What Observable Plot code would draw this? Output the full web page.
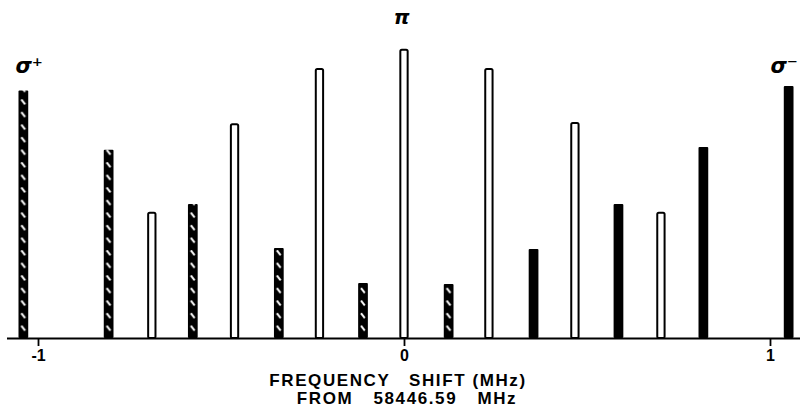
<!DOCTYPE html>
<html>
<head>
<meta charset="utf-8">
<script src="https://cdn.jsdelivr.net/npm/d3@7"></script>
<script src="https://cdn.jsdelivr.net/npm/@observablehq/plot@0.6"></script>
<style>
  html, body { margin: 0; padding: 0; background: #fff; }
  svg [aria-label^="x-axis"] path, svg [aria-label^="x-axis"] line { stroke-width: 1.8px; }
</style>
</head>
<body>
<div id="chart"></div>
<script>
// Zeeman components: frequency shift (MHz), relative intensity, polarization
const shift =        [-1.040, -0.807, -0.689, -0.577, -0.463, -0.342, -0.231, -0.112, 0.000, 0.122, 0.232, 0.354, 0.467, 0.586, 0.702, 0.818, 1.051];
const intensity =    [  85.6,   65.1,   43.3,   46.4,   74.0,   31.1,   93.1,   19.0,  99.7,  18.7,  93.1,  30.8,  74.4,  46.4,  43.3,  66.1,  87.2];
const polarization = ["sigma+", "sigma+", "pi", "sigma+", "pi", "sigma+", "pi", "sigma+", "pi", "sigma+", "pi", "sigma-", "pi", "sigma-", "pi", "sigma-", "sigma-"];

const tickValues = [-1, 0, 1];
const polLabels = ["σ⁺", "π", "σ⁻"];
const polLabelShift = [-1.063, -0.008, 1.075];
const polLabelHeight = [91.7, 108.7, 91.7];
const polLabelAnchor = ["start", "middle", "end"];
const axisTitle = ["FREQUENCY\u2003SHIFT (MHz)", "FROM\u2002\u200258446.59\u2002\u2002MHz"];

const lines = shift.map((x, i) => ({x, y: intensity[i], pol: polarization[i], id: i}));
const hatched = lines.filter(d => d.pol === "sigma+");
const solid = lines.filter(d => d.pol === "sigma-");
const open = lines.filter(d => d.pol === "pi");
const labels = polLabels.map((t, i) => ({t, x: polLabelShift[i], y: polLabelHeight[i], a: polLabelAnchor[i]}));

const HW = 0.0133;  // half width of filled bars (MHz)
const HWO = 0.0100; // half width of open bars (MHz)

const labelStyle = {x: "x", y: "y", text: "t", lineAnchor: "bottom", fontWeight: "bold", fontStyle: "italic",
  fontFamily: "'DejaVu Sans', sans-serif", fill: "#000"};

const chart = Plot.plot({
  width: 800,
  height: 415,
  marginLeft: 7,
  marginRight: 0,
  marginTop: 49,
  marginBottom: 77,
  x: {domain: [-1.0847, 1.082], ticks: tickValues, tickSize: 8, tickPadding: 3,
      tickFormat: d => (d < 0 ? "-" : "") + Math.abs(d), label: null},
  y: {domain: [0, 100], axis: null},
  color: {type: "identity"},
  style: {fontFamily: "'Liberation Sans', Arial, sans-serif", fontSize: "16px", color: "#000", background: "#fff", overflow: "visible"},
  marks: [
    Plot.rect(solid, {x1: d => d.x - HW, x2: d => d.x + HW, y1: 0, y2: "y", fill: "#000", rx: 1}),
    Plot.rect(hatched, {x1: d => d.x - HW, x2: d => d.x + HW, y1: 0, y2: "y", fill: d => `url(#hatch${d.id})`, rx: 1}),
    Plot.rect(open, {x1: d => d.x - HWO, x2: d => d.x + HWO, y1: 0, y2: "y", fill: "#fff", stroke: "#000", strokeWidth: 2, rx: 1.5}),
    Plot.ruleY([0], {stroke: "#000", strokeWidth: 2}),
    Plot.text(labels.filter(d => d.a === "start"), {...labelStyle, textAnchor: "start", fontSize: 21}),
    Plot.text(labels.filter(d => d.a === "end"), {...labelStyle, textAnchor: "end", fontSize: 21}),
    Plot.text(labels.filter(d => d.a === "middle"), {...labelStyle, textAnchor: "middle", fontSize: 20}),
    Plot.text([axisTitle[0]], {frameAnchor: "bottom", dx: -6, dy: 47, lineAnchor: "bottom", fontSize: 17, fontWeight: "bold", fill: "#000"}),
    Plot.text([axisTitle[1]], {frameAnchor: "bottom", dx: 3, dy: 65, lineAnchor: "bottom", fontSize: 17, fontWeight: "bold", fill: "#000"})
  ]
});

// hatch patterns: black bars with short white diagonal dashes, aligned to each bar
const svg = chart.tagName.toLowerCase() === "svg" ? chart : chart.querySelector("svg");
const xs = chart.scale("x"), ys = chart.scale("y");
const defs = d3.select(svg).insert("defs", ":first-child");
const base = ys.apply(0);
hatched.forEach(d => {
  const cx = xs.apply(d.x);
  const p = defs.append("pattern")
    .attr("id", "hatch" + d.id)
    .attr("patternUnits", "userSpaceOnUse")
    .attr("x", cx - 5).attr("y", base)
    .attr("width", 10).attr("height", 12.57);
  p.append("rect").attr("width", 10).attr("height", 12.57).attr("fill", "#000");
  p.append("line").attr("x1", 3.0).attr("y1", 0.3).attr("x2", 6.8).attr("y2", 5.2)
    .attr("stroke", "#fff").attr("stroke-width", 2.0);
});
d3.select(svg).selectAll("text").filter(function() { return axisTitle.includes(this.textContent); })
  .attr("letter-spacing", "1.6px");
d3.select(svg).selectAll("text").filter(function() { return tickValues.map(v => (v < 0 ? "-" : "") + Math.abs(v)).includes(this.textContent); })
  .attr("font-weight", "bold");

document.getElementById("chart").appendChild(chart);
</script>
</body>
</html>
